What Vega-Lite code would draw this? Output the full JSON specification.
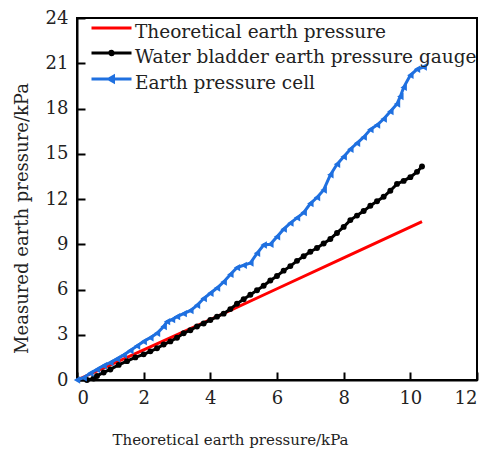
{
  "$schema": "https://vega.github.io/schema/vega-lite/v6.json",
  "autosize": "none",
  "width": 400,
  "height": 362,
  "padding": {"left": 77, "top": 18, "right": 14, "bottom": 70},
  "background": "white",
  "config": {
    "view": {"stroke": "black", "strokeWidth": 2},
    "font": "DejaVu Serif",
    "axis": {
      "grid": false,
      "domainColor": "black",
      "domainWidth": 2,
      "tickColor": "black",
      "tickWidth": 2,
      "tickSize": -8,
      "labelFont": "DejaVu Serif",
      "labelFontSize": 18,
      "labelColor": "#222222",
      "titleFont": "DejaVu Serif",
      "titleFontWeight": "normal",
      "titleColor": "#222222"
    },
    "legend": {"labelFont": "DejaVu Serif"}
  },
  "datasets": {
    "series": [
      {"s": "Theoretical earth pressure", "x": 0, "y": 0},
      {"s": "Theoretical earth pressure", "x": 2, "y": 2.0},
      {"s": "Theoretical earth pressure", "x": 4, "y": 4.0},
      {"s": "Theoretical earth pressure", "x": 6, "y": 6.05},
      {"s": "Theoretical earth pressure", "x": 8, "y": 8.1},
      {"s": "Theoretical earth pressure", "x": 10.35, "y": 10.5},

      {"s": "Water bladder earth pressure gauge", "x": 0.3, "y": 0},
      {"s": "Water bladder earth pressure gauge", "x": 0.5, "y": 0.1},
      {"s": "Water bladder earth pressure gauge", "x": 0.6, "y": 0.27},
      {"s": "Water bladder earth pressure gauge", "x": 0.8, "y": 0.5},
      {"s": "Water bladder earth pressure gauge", "x": 1.0, "y": 0.7},
      {"s": "Water bladder earth pressure gauge", "x": 1.25, "y": 1.0},
      {"s": "Water bladder earth pressure gauge", "x": 1.5, "y": 1.25},
      {"s": "Water bladder earth pressure gauge", "x": 1.75, "y": 1.5},
      {"s": "Water bladder earth pressure gauge", "x": 2.0, "y": 1.7},
      {"s": "Water bladder earth pressure gauge", "x": 2.2, "y": 1.9},
      {"s": "Water bladder earth pressure gauge", "x": 2.4, "y": 2.1},
      {"s": "Water bladder earth pressure gauge", "x": 2.6, "y": 2.35},
      {"s": "Water bladder earth pressure gauge", "x": 2.8, "y": 2.56},
      {"s": "Water bladder earth pressure gauge", "x": 3.0, "y": 2.8},
      {"s": "Water bladder earth pressure gauge", "x": 3.2, "y": 3.1},
      {"s": "Water bladder earth pressure gauge", "x": 3.4, "y": 3.3},
      {"s": "Water bladder earth pressure gauge", "x": 3.6, "y": 3.55},
      {"s": "Water bladder earth pressure gauge", "x": 3.8, "y": 3.75},
      {"s": "Water bladder earth pressure gauge", "x": 4.0, "y": 3.98},
      {"s": "Water bladder earth pressure gauge", "x": 4.2, "y": 4.2},
      {"s": "Water bladder earth pressure gauge", "x": 4.4, "y": 4.4},
      {"s": "Water bladder earth pressure gauge", "x": 4.6, "y": 4.7},
      {"s": "Water bladder earth pressure gauge", "x": 4.8, "y": 5.05},
      {"s": "Water bladder earth pressure gauge", "x": 5.0, "y": 5.35},
      {"s": "Water bladder earth pressure gauge", "x": 5.2, "y": 5.65},
      {"s": "Water bladder earth pressure gauge", "x": 5.4, "y": 5.95},
      {"s": "Water bladder earth pressure gauge", "x": 5.6, "y": 6.25},
      {"s": "Water bladder earth pressure gauge", "x": 5.8, "y": 6.6},
      {"s": "Water bladder earth pressure gauge", "x": 6.0, "y": 6.9},
      {"s": "Water bladder earth pressure gauge", "x": 6.2, "y": 7.25},
      {"s": "Water bladder earth pressure gauge", "x": 6.4, "y": 7.55},
      {"s": "Water bladder earth pressure gauge", "x": 6.6, "y": 7.9},
      {"s": "Water bladder earth pressure gauge", "x": 6.8, "y": 8.2},
      {"s": "Water bladder earth pressure gauge", "x": 7.0, "y": 8.5},
      {"s": "Water bladder earth pressure gauge", "x": 7.2, "y": 8.75},
      {"s": "Water bladder earth pressure gauge", "x": 7.4, "y": 9.05},
      {"s": "Water bladder earth pressure gauge", "x": 7.6, "y": 9.35},
      {"s": "Water bladder earth pressure gauge", "x": 7.8, "y": 9.75},
      {"s": "Water bladder earth pressure gauge", "x": 8.0, "y": 10.15},
      {"s": "Water bladder earth pressure gauge", "x": 8.2, "y": 10.6},
      {"s": "Water bladder earth pressure gauge", "x": 8.4, "y": 10.9},
      {"s": "Water bladder earth pressure gauge", "x": 8.6, "y": 11.2},
      {"s": "Water bladder earth pressure gauge", "x": 8.8, "y": 11.55},
      {"s": "Water bladder earth pressure gauge", "x": 9.0, "y": 11.85},
      {"s": "Water bladder earth pressure gauge", "x": 9.2, "y": 12.15},
      {"s": "Water bladder earth pressure gauge", "x": 9.4, "y": 12.55},
      {"s": "Water bladder earth pressure gauge", "x": 9.6, "y": 13.0},
      {"s": "Water bladder earth pressure gauge", "x": 9.8, "y": 13.2},
      {"s": "Water bladder earth pressure gauge", "x": 10.0, "y": 13.45},
      {"s": "Water bladder earth pressure gauge", "x": 10.2, "y": 13.8},
      {"s": "Water bladder earth pressure gauge", "x": 10.35, "y": 14.15},

      {"s": "Earth pressure cell", "x": 0, "y": 0},
      {"s": "Earth pressure cell", "x": 0.2, "y": 0.15},
      {"s": "Earth pressure cell", "x": 0.4, "y": 0.45},
      {"s": "Earth pressure cell", "x": 0.6, "y": 0.7},
      {"s": "Earth pressure cell", "x": 0.8, "y": 0.95},
      {"s": "Earth pressure cell", "x": 1.0, "y": 1.15},
      {"s": "Earth pressure cell", "x": 1.2, "y": 1.4},
      {"s": "Earth pressure cell", "x": 1.4, "y": 1.65},
      {"s": "Earth pressure cell", "x": 1.6, "y": 1.95},
      {"s": "Earth pressure cell", "x": 1.8, "y": 2.25},
      {"s": "Earth pressure cell", "x": 2.0, "y": 2.55},
      {"s": "Earth pressure cell", "x": 2.2, "y": 2.8},
      {"s": "Earth pressure cell", "x": 2.4, "y": 3.1},
      {"s": "Earth pressure cell", "x": 2.6, "y": 3.55},
      {"s": "Earth pressure cell", "x": 2.7, "y": 3.87},
      {"s": "Earth pressure cell", "x": 2.85, "y": 4.0},
      {"s": "Earth pressure cell", "x": 3.0, "y": 4.2},
      {"s": "Earth pressure cell", "x": 3.2, "y": 4.4},
      {"s": "Earth pressure cell", "x": 3.4, "y": 4.6},
      {"s": "Earth pressure cell", "x": 3.6, "y": 4.95},
      {"s": "Earth pressure cell", "x": 3.8, "y": 5.4},
      {"s": "Earth pressure cell", "x": 4.0, "y": 5.75},
      {"s": "Earth pressure cell", "x": 4.2, "y": 6.1},
      {"s": "Earth pressure cell", "x": 4.4, "y": 6.5},
      {"s": "Earth pressure cell", "x": 4.6, "y": 7.0},
      {"s": "Earth pressure cell", "x": 4.8, "y": 7.45},
      {"s": "Earth pressure cell", "x": 5.0, "y": 7.6},
      {"s": "Earth pressure cell", "x": 5.2, "y": 7.75},
      {"s": "Earth pressure cell", "x": 5.4, "y": 8.4},
      {"s": "Earth pressure cell", "x": 5.6, "y": 8.95},
      {"s": "Earth pressure cell", "x": 5.8, "y": 9.0},
      {"s": "Earth pressure cell", "x": 6.0, "y": 9.5},
      {"s": "Earth pressure cell", "x": 6.2, "y": 10.0},
      {"s": "Earth pressure cell", "x": 6.4, "y": 10.4},
      {"s": "Earth pressure cell", "x": 6.6, "y": 10.75},
      {"s": "Earth pressure cell", "x": 6.8, "y": 11.1},
      {"s": "Earth pressure cell", "x": 7.0, "y": 11.7},
      {"s": "Earth pressure cell", "x": 7.2, "y": 12.1},
      {"s": "Earth pressure cell", "x": 7.4, "y": 12.6},
      {"s": "Earth pressure cell", "x": 7.6, "y": 13.6},
      {"s": "Earth pressure cell", "x": 7.8, "y": 14.3},
      {"s": "Earth pressure cell", "x": 8.0, "y": 14.8},
      {"s": "Earth pressure cell", "x": 8.2, "y": 15.3},
      {"s": "Earth pressure cell", "x": 8.4, "y": 15.7},
      {"s": "Earth pressure cell", "x": 8.6, "y": 16.1},
      {"s": "Earth pressure cell", "x": 8.8, "y": 16.6},
      {"s": "Earth pressure cell", "x": 9.0, "y": 16.9},
      {"s": "Earth pressure cell", "x": 9.2, "y": 17.3},
      {"s": "Earth pressure cell", "x": 9.4, "y": 17.8},
      {"s": "Earth pressure cell", "x": 9.6, "y": 18.3},
      {"s": "Earth pressure cell", "x": 9.7, "y": 18.8},
      {"s": "Earth pressure cell", "x": 9.8, "y": 19.4},
      {"s": "Earth pressure cell", "x": 10.0, "y": 20.2},
      {"s": "Earth pressure cell", "x": 10.2, "y": 20.6},
      {"s": "Earth pressure cell", "x": 10.4, "y": 20.75}
    ]
  },
  "data": {"name": "series"},
  "encoding": {
    "x": {
      "field": "x", "type": "quantitative",
      "scale": {"domain": [0, 12], "nice": false},
      "axis": {
        "values": [0, 2, 4, 6, 8, 10, 12],
        "title": "Theoretical earth pressure/kPa",
        "titleFontSize": 15,
        "labelPadding": 17,
        "titleX": 153,
        "titleY": 64,
        "titleAlign": "center",
        "titleBaseline": "alphabetic"
      }
    },
    "y": {
      "field": "y", "type": "quantitative",
      "scale": {"domain": [0, 24], "nice": false},
      "axis": {
        "values": [0, 3, 6, 9, 12, 15, 18, 21, 24],
        "title": "Measured earth pressure/kPa",
        "titleFontSize": 18,
        "labelPadding": 17,
        "titleX": -55,
        "titleY": 200,
        "titleAlign": "center",
        "titleBaseline": "middle"
      }
    },
    "color": {
      "field": "s", "type": "nominal",
      "scale": {
        "domain": ["Theoretical earth pressure", "Water bladder earth pressure gauge", "Earth pressure cell"],
        "range": ["#ff0000", "#000000", "#1f70e0"]
      },
      "legend": {
        "orient": "none",
        "legendX": 23,
        "legendY": 2.5,
        "title": null,
        "symbolSize": 400,
        "symbolStrokeWidth": 3,
        "labelFont": "DejaVu Serif",
        "labelFontSize": 18.5,
        "labelColor": "#222222",
        "labelLimit": 500,
        "rowPadding": 3,
        "padding": 0,
        "labelOffset": 12,
        "encode": {
          "symbols": {
            "update": {
              "shape": {"signal": "datum.value === 'Theoretical earth pressure' ? 'M-2,-0.4L2,-0.4' : (datum.value === 'Earth pressure cell' ? 'M-2,-0.4L2,-0.4M-0.28,-0.4L0.2,-0.67L0.2,-0.13Z' : 'M-2,-0.4L2,-0.4M0.17,-0.4A0.17,0.17 0 1,1 -0.17,-0.4A0.17,0.17 0 1,1 0.17,-0.4Z')"},
              "fill": {"scale": "color", "field": "value"},
              "stroke": {"scale": "color", "field": "value"},
              "strokeWidth": {"value": 3},
              "opacity": {"value": 1}
            }
          }
        }
      }
    }
  },
  "layer": [
    {
      "mark": {"type": "line", "strokeWidth": 3}
    },
    {
      "transform": [{"filter": "datum.s === 'Water bladder earth pressure gauge'"}],
      "mark": {"type": "point", "filled": true, "opacity": 1, "size": 35, "shape": "circle"}
    },
    {
      "transform": [{"filter": "datum.s === 'Earth pressure cell'"}],
      "mark": {"type": "point", "filled": true, "opacity": 1, "size": 55, "shape": "triangle-left"}
    }
  ]
}
